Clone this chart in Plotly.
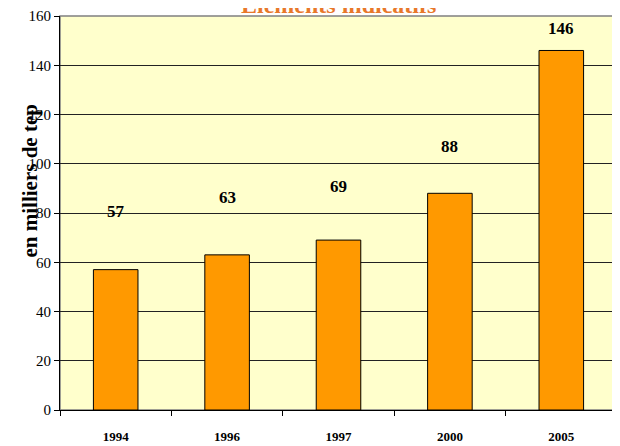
import plotly.graph_objects as go

years = ["1994", "1996", "1997", "2000", "2005"]
values = [57, 63, 69, 88, 146]
label_heights = [80.8, 86.1, 90.6, 107.2, 155.1]
y_ticks = [0, 20, 40, 60, 80, 100, 120, 140, 160]

SERIF = "Liberation Serif, Times New Roman, serif"

fig = go.Figure()
fig.add_trace(go.Bar(
    x=years, y=values,
    marker=dict(color="#FF9900", line=dict(color="#000000", width=1)),
    hoverinfo="x+y",
))

# category index positions for the value labels
for i, (v, h) in enumerate(zip(values, label_heights)):
    fig.add_annotation(x=i, y=h, xref="x", yref="y", text=f"<b>{v}</b>",
                       showarrow=False, font=dict(family=SERIF, size=17, color="#000000"),
                       xanchor="center", yanchor="middle")

fig.add_annotation(text="<b>Eléments indicatifs</b>", xref="paper", yref="paper",
                   x=0.5, y=1, xanchor="center", yanchor="bottom", yshift=-4,
                   showarrow=False, font=dict(family=SERIF, size=24, color="#E8782A"))

fig.add_annotation(text="<b>en milliers de tep</b>", xref="paper", yref="paper",
                   x=0, y=0.58, xanchor="center", yanchor="middle", xshift=-30,
                   textangle=-90, showarrow=False,
                   font=dict(family=SERIF, size=21, color="#000000"))

fig.add_shape(type="rect", xref="paper", yref="paper", x0=0, y0=0, x1=1, y1=1,
              line=dict(color="#808080", width=1.5), layer="below")

fig.update_layout(
    width=612, height=438,
    margin=dict(l=52, r=3, t=8, b=36, autoexpand=False),
    paper_bgcolor="#FFFFFF",
    plot_bgcolor="#FFFFCC",
    bargap=0.6,
    showlegend=False,
    xaxis=dict(
        type="category",
        categoryorder="array", categoryarray=years,
        range=[-0.5, len(years) - 0.5],
        tickvals=years, ticktext=[f"<b>{y}</b>" for y in years],
        tickangle=0, automargin=False,
        showgrid=False,
        showline=True, linecolor="#000000", linewidth=1,
        ticks="outside", tickson="boundaries", ticklen=5, tickcolor="#000000",
        tickfont=dict(family=SERIF, size=13, color="#000000"),
        ticklabelstandoff=14,
    ),
    yaxis=dict(
        range=[0, 160],
        tickvals=y_ticks, automargin=False,
        showgrid=True, gridcolor="#222222", gridwidth=1,
        showline=True, linecolor="#000000", linewidth=1,
        ticks="outside", ticklen=5, tickcolor="#000000",
        tickfont=dict(family=SERIF, size=15, color="#000000"),
        zeroline=False,
    ),
)

fig.write_html("out.html")
